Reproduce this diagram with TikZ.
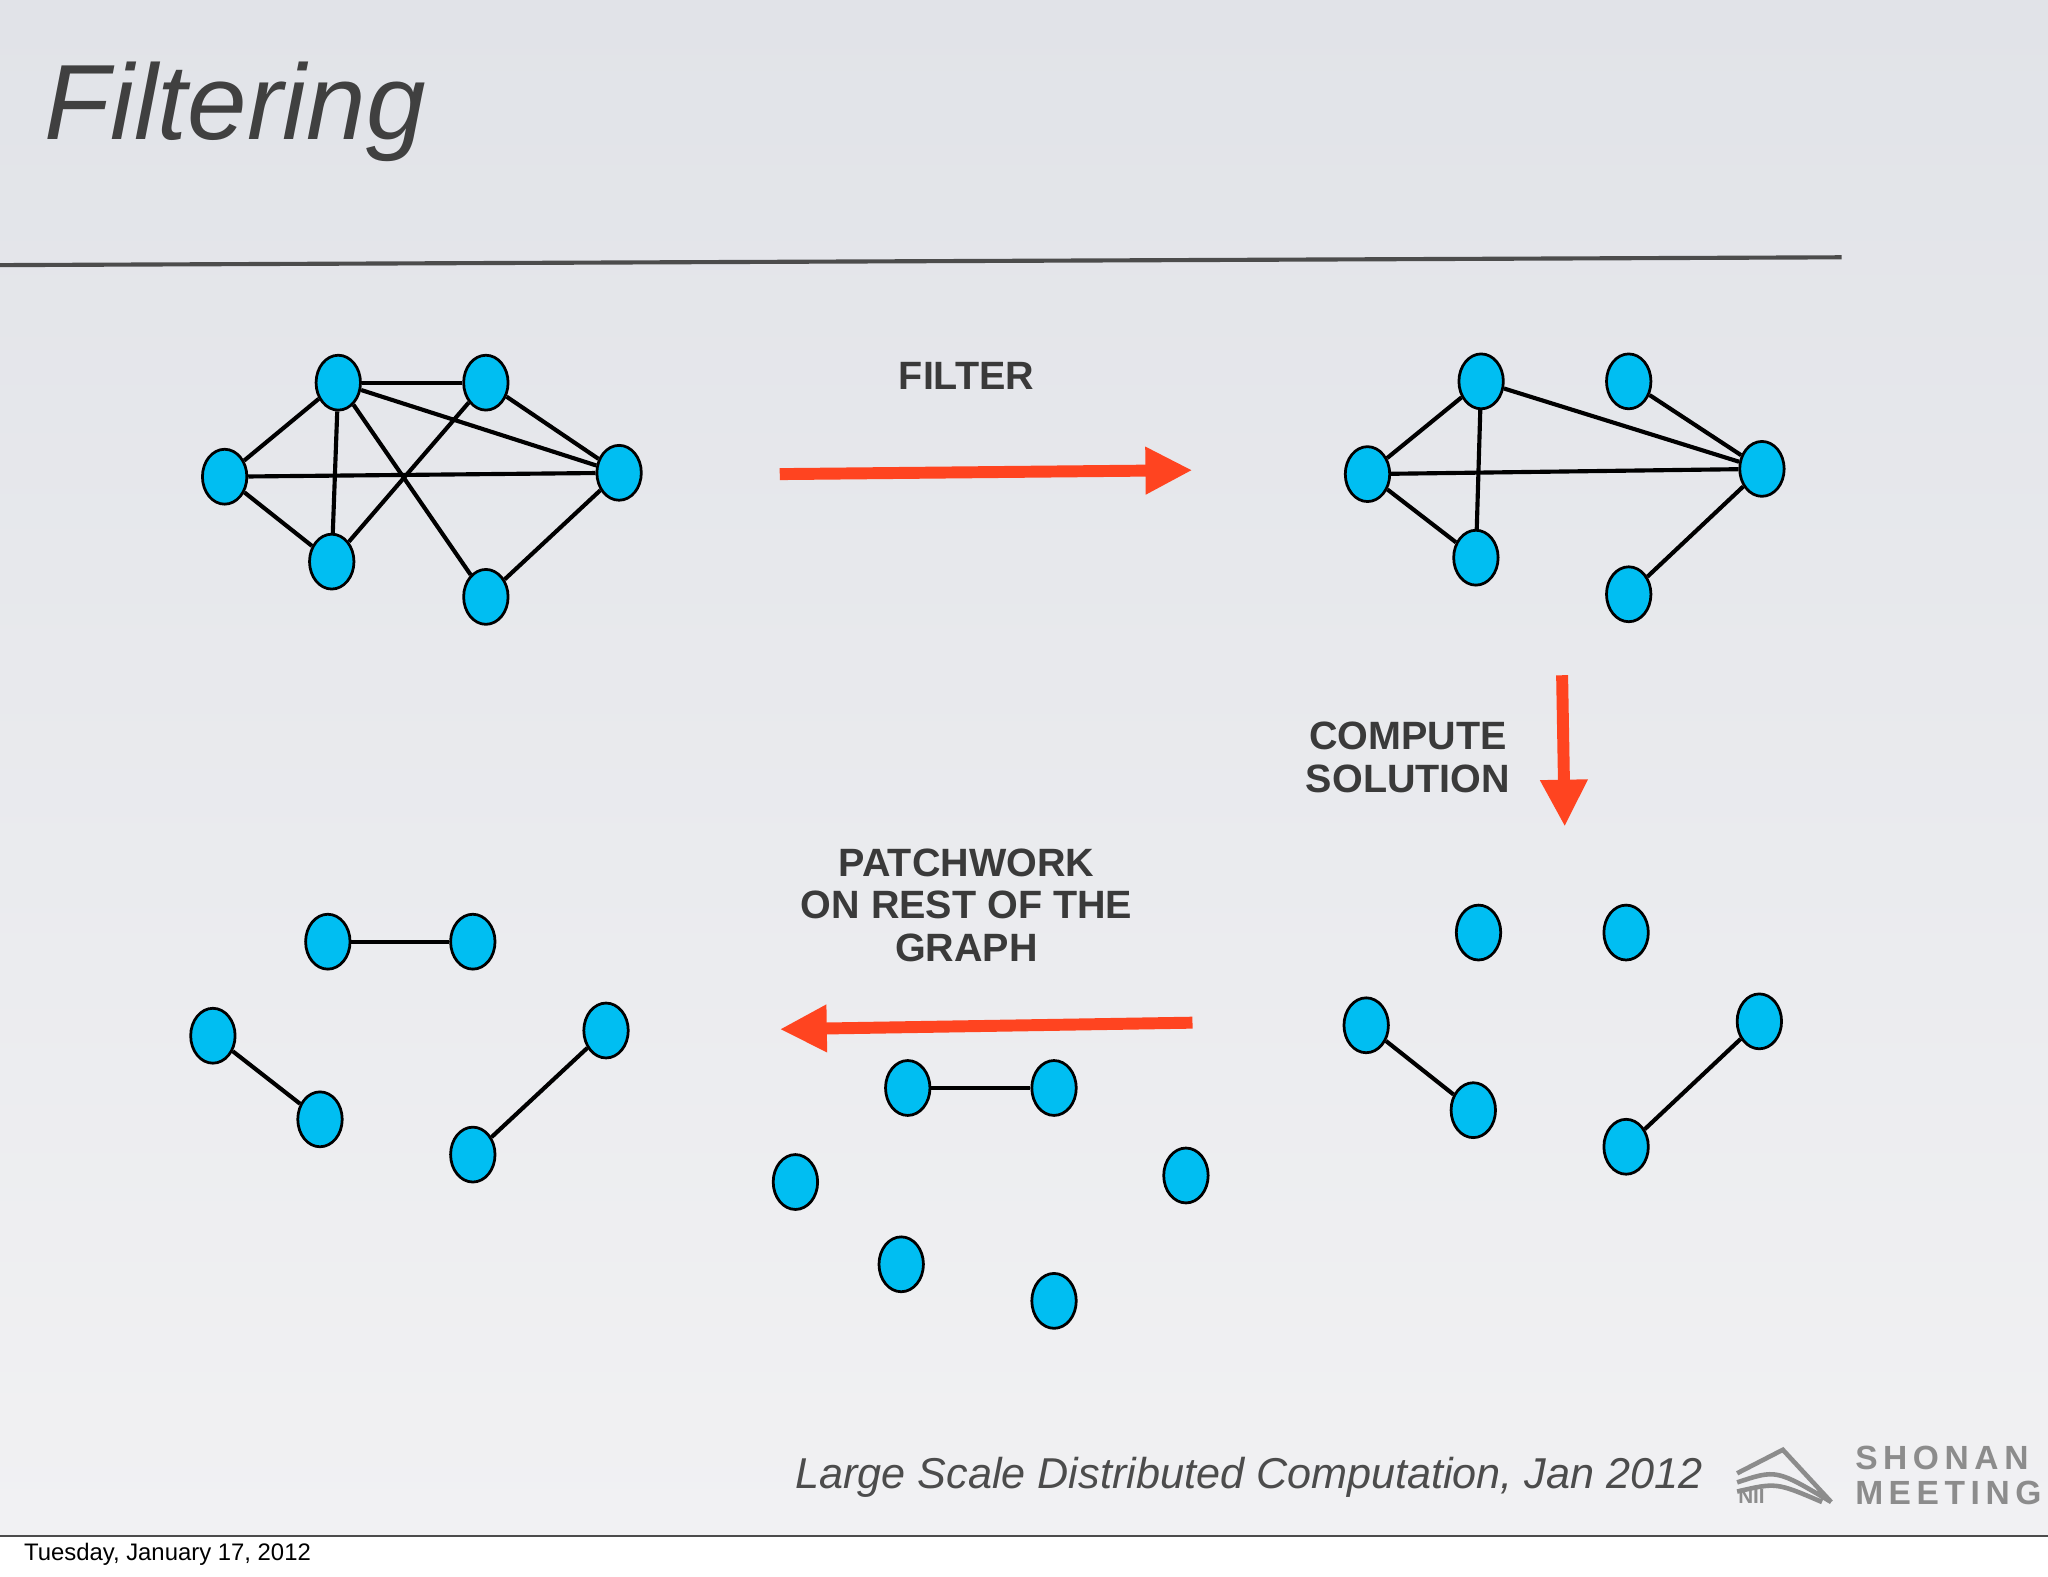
\documentclass[tikz,border=0pt]{standalone}
\usepackage{fontspec}
\setmainfont{Liberation Sans}
\usetikzlibrary{arrows.meta,shapes.geometric}
\definecolor{nodec}{HTML}{00BEF2}
\definecolor{arr}{HTML}{FF4420}
\definecolor{txt}{HTML}{3A3A3A}
\definecolor{bgtop}{HTML}{E1E3E8}
\definecolor{bgbot}{HTML}{F1F1F3}
\tikzset{
  v/.style={ellipse,draw=black,line width=0.6pt,fill=nodec,minimum width=0.34cm,minimum height=0.42cm,inner sep=0pt},
  ed/.style={line width=0.9pt,black},
  bigarrow/.style={arr,line width=2.6pt,-{Triangle[length=0.36cm,width=0.34cm]}},
  lbl/.style={font=\bfseries\fontsize{8.6}{9.3}\selectfont,text=txt,align=center}
}
\begin{document}
\begin{tikzpicture}[x=0.01cm,y=-0.01cm]
\useasboundingbox (0,0) rectangle (1568,1207);
\shade[top color=bgtop,bottom color=bgbot] (0,0) rectangle (1568,1176);
\fill[white] (0,1176) rectangle (1568,1207);
\draw[black!70,line width=0.6pt] (0,1176) -- (1568,1176);
\draw[black!70,line width=0.9pt] (0,203) -- (1410,197);
\node[anchor=west,font=\itshape\fontsize{23.3}{27}\selectfont,text=black!75] (title) at (22,86) {Filtering};
% graph 1
\node[v] (a1) at (259,293) {}; \node[v] (b1) at (372,293) {};
\node[v] (c1) at (172,365) {}; \node[v] (d1) at (474,362) {};
\node[v] (e1) at (254,430) {}; \node[v] (f1) at (372,457) {};
\foreach \p/\q in {a1/b1,a1/c1,a1/e1,a1/f1,a1/d1,b1/d1,b1/e1,c1/d1,c1/e1,f1/d1} \draw[ed] (\p) -- (\q);
% graph 2
\node[v] (a2) at (1134,292) {}; \node[v] (b2) at (1247,292) {};
\node[v] (c2) at (1047,363) {}; \node[v] (d2) at (1349,359) {};
\node[v] (e2) at (1130,427) {}; \node[v] (f2) at (1247,455) {};
\foreach \p/\q in {a2/c2,a2/e2,a2/d2,b2/d2,c2/d2,c2/e2,f2/d2} \draw[ed] (\p) -- (\q);
% graph 3
\node[v] (a3) at (1132,714) {}; \node[v] (b3) at (1245,714) {};
\node[v] (c3) at (1046,785) {}; \node[v] (d3) at (1347,782) {};
\node[v] (e3) at (1128,850) {}; \node[v] (f3) at (1245,878) {};
\foreach \p/\q in {c3/e3,f3/d3} \draw[ed] (\p) -- (\q);
% graph 4
\node[v] (a4) at (695,833) {}; \node[v] (b4) at (807,833) {};
\node[v] (c4) at (609,905) {}; \node[v] (d4) at (908,900) {};
\node[v] (e4) at (690,968) {}; \node[v] (f4) at (807,996) {};
\draw[ed] (a4) -- (b4);
% graph 5
\node[v] (a5) at (251,721) {}; \node[v] (b5) at (362,721) {};
\node[v] (c5) at (163,793) {}; \node[v] (d5) at (464,789) {};
\node[v] (e5) at (245,857) {}; \node[v] (f5) at (362,884) {};
\foreach \p/\q in {a5/b5,c5/e5,f5/d5} \draw[ed] (\p) -- (\q);
% arrows
\coordinate (s1) at (597,363); \coordinate (t1) at (913,360);
\coordinate (s2) at (1196,517); \coordinate (t2) at (1198,633);
\coordinate (s3) at (913,783); \coordinate (t3) at (597,788);
\draw[bigarrow] (s1) -- (t1);
\draw[bigarrow] (s2) -- (t2);
\draw[bigarrow] (s3) -- (t3);
\node[lbl] (l1) at (740,288) {FILTER};
\node[lbl] (l2) at (1078,580) {COMPUTE\\SOLUTION};
\node[lbl] (l3) at (740,693) {PATCHWORK\\ON REST OF THE\\GRAPH};
% footer
\node[anchor=east,font=\itshape\fontsize{9.4}{11}\selectfont,text=black!70] (foot) at (1316,1131) {Large Scale Distributed Computation, Jan 2012};
\draw[black!45,line width=1pt] (1330,1128) -- (1365,1110) -- (1402,1150) (1330,1135) .. controls (1360,1125) .. (1402,1150) (1330,1142) .. controls (1360,1135) .. (1395,1150);
\node[font=\bfseries\fontsize{4.5}{5}\selectfont,text=black!45] (nii) at (1341,1146) {NII};
\node[font=\bfseries\fontsize{7.3}{7.6}\selectfont,text=black!45,align=left,anchor=west] (logo) at (1408,1130) {S\,H\,O\,N\,A\,N\\M\,E\,E\,T\,I\,N\,G};
\node[anchor=west,font=\fontsize{5.2}{6}\selectfont] (date) at (6,1190) {Tuesday, January 17, 2012};
\end{tikzpicture}
\end{document}
